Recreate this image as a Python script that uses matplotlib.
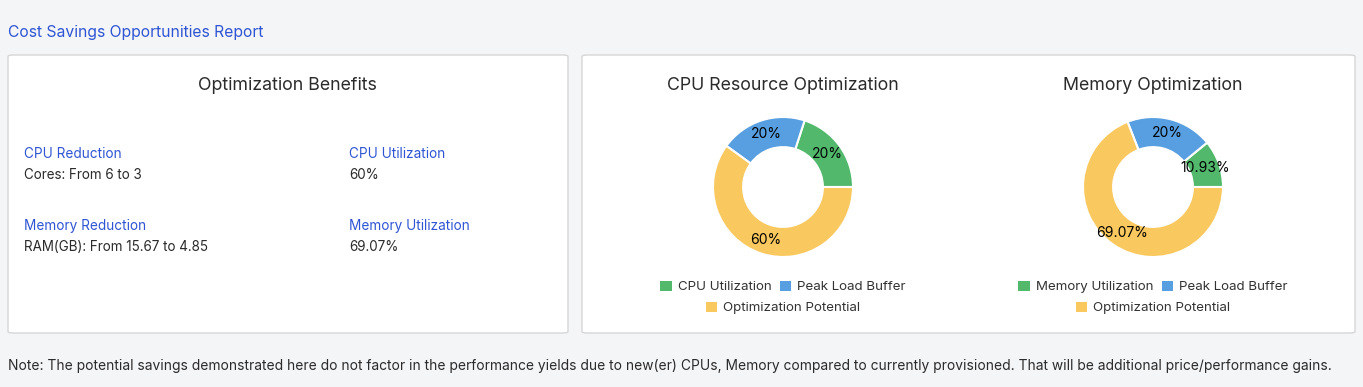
import matplotlib.pyplot as plt
from matplotlib.patches import FancyBboxPatch, Patch

plt.rcParams["font.family"] = ["Inter", "DejaVu Sans"]

W, H = 1363, 387

# data
cpu_labels = ["CPU Utilization", "Peak Load Buffer", "Optimization Potential"]
cpu_values = [20, 20, 60]
mem_labels = ["Memory Utilization", "Peak Load Buffer", "Optimization Potential"]
mem_values = [10.93, 20, 69.07]
colors = ["#52b96c", "#579fe0", "#f9c85e"]

benefit_titles = ["CPU Reduction", "CPU Utilization", "Memory Reduction", "Memory Utilization"]
benefit_values = ["Cores: From 6 to 3", "60%", "RAM(GB): From 15.67 to 4.85", "69.07%"]

BLUE = "#2f55d4"
DARK = "#2b2b2b"


def fx(x):
    return x / W


def fy(y):
    return 1 - y / H


fig = plt.figure(figsize=(W / 100, H / 100), dpi=100, facecolor="#f4f5f7")

# panels
for x0, x1 in [(8, 568), (582, 1355)]:
    box = FancyBboxPatch((fx(x0), fy(333)), fx(x1 - x0), (333 - 55) / H,
                         boxstyle="round,pad=0,rounding_size=0.004",
                         transform=fig.transFigure, facecolor="white",
                         edgecolor="#d6d6d6", linewidth=1, zorder=-5)
    fig.patches.append(box)

fig.text(fx(8), fy(33), "Cost Savings Opportunities Report", color=BLUE,
         fontsize=11.3, va="center", ha="left")
fig.text(fx(287), fy(85), "Optimization Benefits", color=DARK,
         fontsize=12.8, va="center", ha="center")

pos = [(24, 154), (349, 154), (24, 226), (349, 226)]
for (x, y), t, v in zip(pos, benefit_titles, benefit_values):
    fig.text(fx(x), fy(y), t, color=BLUE, fontsize=9.8, va="center", ha="left")
    fig.text(fx(x), fy(y + 21), v, color=DARK, fontsize=9.7, va="center", ha="left")


def fmt(p):
    return f"{round(p, 2):g}%"


def donut(cx, title, labels, values):
    fig.text(fx(cx), fy(85), title, color=DARK, fontsize=12.8, va="center", ha="center")
    half = 80
    ax = fig.add_axes([fx(cx - half), fy(187 + half), 2 * half / W, 2 * half / H])
    ax.set_zorder(2)
    ax.pie(values, colors=colors, startangle=0, counterclock=True, radius=1,
           autopct=fmt, pctdistance=0.79,
           wedgeprops=dict(width=0.43, edgecolor="white", linewidth=1.5),
           textprops=dict(fontsize=10, color="black"))
    lim = half / 70
    ax.set_xlim(-lim, lim)
    ax.set_ylim(-lim, lim)
    ax.axis("off")
    handles = [Patch(facecolor=c, edgecolor="none") for c in colors]
    kw = dict(frameon=False, fontsize=9.6, handlelength=0.85, handleheight=0.85,
              handletextpad=0.45, columnspacing=0.65, labelcolor="#333333",
              borderpad=0, borderaxespad=0)
    fig.legend(handles[:2], labels[:2], loc="center", ncol=2,
               bbox_to_anchor=(fx(cx), fy(287)), **kw)
    fig.legend(handles[2:], labels[2:], loc="center", ncol=1,
               bbox_to_anchor=(fx(cx), fy(308)), **kw)


donut(783, "CPU Resource Optimization", cpu_labels, cpu_values)
donut(1153, "Memory Optimization", mem_labels, mem_values)

fig.text(fx(8), fy(366),
         "Note: The potential savings demonstrated here do not factor in the performance yields "
         "due to new(er) CPUs, Memory compared to currently provisioned. That will be additional "
         "price/performance gains.",
         color=DARK, fontsize=9.95, va="center", ha="left")

fig.savefig("out.png", dpi=100, facecolor=fig.get_facecolor())
